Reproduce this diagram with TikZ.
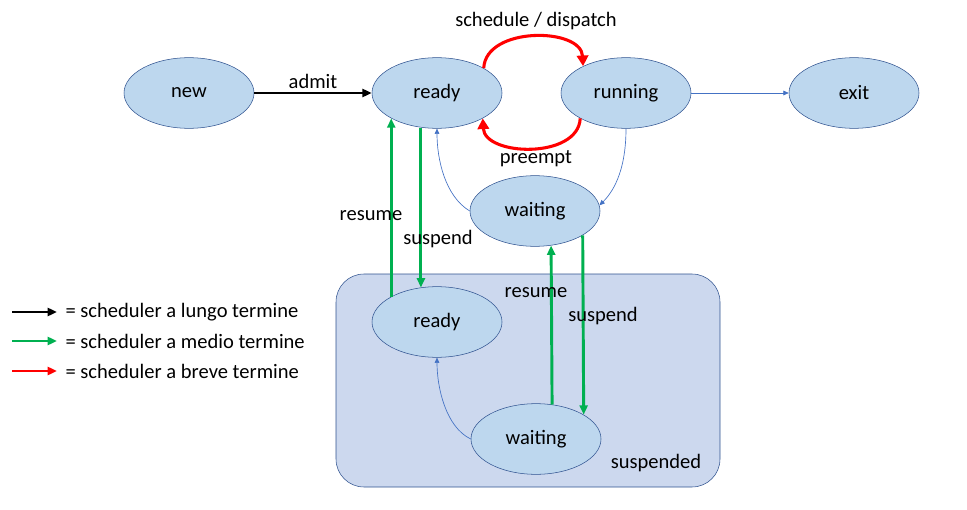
\documentclass[tikz,border=0pt]{standalone}
\usepackage{fontspec}
\setmainfont{Carlito}
\usetikzlibrary{arrows.meta, shapes.geometric}
\definecolor{statefill}{RGB}{189,215,238}
\definecolor{stateline}{RGB}{47,82,143}
\definecolor{boxfill}{RGB}{204,216,238}
\definecolor{thinblue}{RGB}{68,114,196}
\definecolor{midgreen}{RGB}{0,176,80}
\tikzset{
    state/.style={ellipse, draw=stateline, fill=statefill, minimum width=97.5pt, minimum height=53pt, inner sep=0pt, font=\fontsize{15.4}{17}\selectfont},
    lbl/.style={font=\fontsize{15.4}{17}\selectfont, inner sep=1pt},
    longarr/.style={-{Triangle[length=7pt,width=6pt]}, line width=1.9pt, black},
    midarr/.style={-{Triangle[length=7pt,width=6pt]}, line width=2.2pt, midgreen},
    shortarr/.style={-{Triangle[length=8pt,width=8.5pt]}, line width=2.3pt, red},
    thinarr/.style={-{Triangle[length=4pt,width=3.5pt]}, line width=0.5pt, thinblue},
}
\begin{document}
\begin{tikzpicture}[x=0.75pt, y=-0.75pt]
    \useasboundingbox (0, 0) rectangle (967, 510);

    % suspended area
    \draw[stateline, fill=boxfill, rounded corners=21pt] (336, 274) rectangle (720, 487);
    \node[lbl] (susplbl) at (656, 463) {suspended};

    \node[state] (new) at (189, 93) {new};
    \node[state] (ready) at (437, 93) {ready};
    \node[state] (running) at (626, 93) {running};
    \node[state] (exit) at (854, 93) {exit};
    \node[state] (waiting) at (535, 211) {waiting};
    \node[state] (readysusp) at (437, 322) {ready};
    \node[state] (waitsusp) at (536, 439) {waiting};

    \draw[longarr] (new) -- (ready) node[midway, above=1pt, lbl] {admit};
    \draw[shortarr] (ready.28) .. controls +(2, -42) and +(-2, -39) .. (running.148);
    \draw[shortarr] (running.209) .. controls +(-2, 41) and +(2, 38) .. (ready.331);
    \node[lbl] (schedlbl) at (536, 21) {schedule / dispatch};
    \node[lbl] (preemptlbl) at (536, 159) {preempt};
    \draw[thinarr] (running) -- (exit);
    \draw[thinarr] (running.south) .. controls +(0, 45) and +(12, -12) .. (waiting.5);
    \draw[thinarr] (waiting.west) .. controls +(-25, -15) and +(0, 30) .. (ready.south);
    \draw[thinarr] (waitsusp.west) .. controls +(-25, -12) and +(0, 30) .. (readysusp.south);

    % medio termine
    \draw[midarr] (readysusp.151) -- (ready.209);
    \draw[midarr] (ready.245) -- (readysusp.115);
    \draw[midarr] (waitsusp.65) -- (waiting.295);
    \draw[midarr] (waiting.333) -- (waitsusp.27);
    \node[lbl] (resumeA) at (371, 216) {resume};
    \node[lbl] (suspendA) at (438, 239) {suspend};
    \node[lbl] (resumeB) at (536, 293) {resume};
    \node[lbl] (suspendB) at (603, 316) {suspend};

    % legend
    \foreach \name/\sty/\y/\txt in {lungo/longarr/312/lungo, medio/midarr/341/medio, breve/shortarr/371/breve} {
        \coordinate (\name a) at (12, \y);
        \coordinate (\name b) at (57, \y);
        \draw[\sty, line width=1.9pt, -{Triangle[length=7pt,width=6pt]}] (\name a) -- (\name b);
        \node[lbl, anchor=west] (\name txt) at (64, \y) {= scheduler a \txt\ termine};
    }
\end{tikzpicture}
\end{document}
